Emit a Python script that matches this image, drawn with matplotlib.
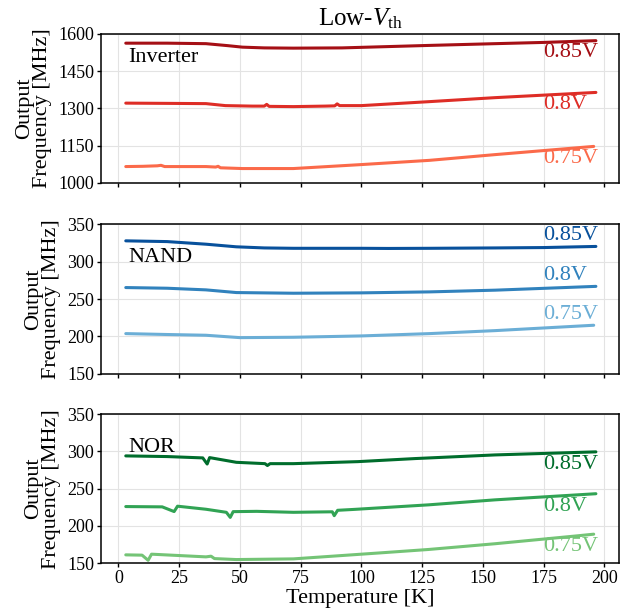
import matplotlib
matplotlib.use("Agg")
import matplotlib.pyplot as plt

plt.rcParams["font.family"] = ["Liberation Serif", "DejaVu Serif"]
plt.rcParams["mathtext.fontset"] = "custom"
plt.rcParams["mathtext.rm"] = "Liberation Serif"
plt.rcParams["mathtext.it"] = "Liberation Serif:italic"

# Inverter ring oscillator, output frequency [MHz] vs temperature [K]
inv_085_T = [3, 20, 36, 45, 51, 60, 72, 92, 110, 128, 155, 175, 196.5]
inv_085_f = [1562, 1562, 1560, 1552, 1546, 1543, 1542, 1543, 1548, 1553, 1560, 1565, 1572]
inv_080_T = [3, 20, 36, 44, 55, 60, 61, 62, 72, 85, 89, 90, 91, 100, 128, 155, 196.5]
inv_080_f = [1321, 1320, 1319, 1311, 1309, 1309, 1316, 1308, 1307, 1309, 1310, 1318, 1311,
             1311, 1327, 1343, 1364]
inv_075_T = [3, 10, 16, 17.5, 19, 36, 40, 41, 42, 51, 72, 100, 128, 155, 195.6]
inv_075_f = [1066, 1067, 1069, 1071, 1066, 1066, 1064, 1067, 1061, 1058, 1058, 1074, 1091,
             1114, 1147]

# NAND
nand_085_T = [3, 20, 36, 48.5, 60, 72, 87, 100, 111, 128, 155, 175, 196.5]
nand_085_f = [328, 327, 323.5, 320, 318.5, 318, 318, 318, 317.8, 318, 318.5, 319, 320.5]
nand_080_T = [3, 20, 36, 48.5, 72, 100, 128, 155, 196.5]
nand_080_f = [265.4, 264.5, 262.3, 258.7, 257.8, 258.3, 259.6, 261.9, 267]
nand_075_T = [3, 20, 36, 50, 72, 100, 128, 155, 195.6]
nand_075_f = [203.7, 202.5, 201.5, 198.3, 198.8, 200.6, 203.7, 207.7, 214.9]

# NOR
nor_085_T = [3, 20, 34.7, 36.5, 37.5, 48.5, 60.3, 61.3, 62.4, 72, 98.5, 122, 155, 196.5]
nor_085_f = [293.9, 293, 291.2, 283, 291.6, 285.3, 283.5, 281, 283.5, 283.5, 286.2, 290.3,
             295.2, 299.3]
nor_080_T = [3, 18, 22.9, 24.3, 36, 44.4, 46, 47.2, 56.9, 72, 88, 88.8, 90.2, 97, 127.6,
             155, 196.5]
nor_080_f = [226, 225.6, 219.3, 226.5, 222.4, 218.3, 211.5, 219.2, 219.6, 218.3, 219, 213.8,
             221, 222.2, 228.3, 235, 243.2]
nor_075_T = [3, 9.7, 12.2, 13.6, 36, 38.1, 39.5, 48.5, 72, 108, 127.6, 155, 188.6, 195.6]
nor_075_f = [161.3, 160.9, 154, 162.2, 158.6, 159.5, 156.3, 155, 155.9, 164, 168.5, 176.2,
             186.7, 189]

voltages = ["0.85V", "0.8V", "0.75V"]
x_ticks = [0, 25, 50, 75, 100, 125, 150, 175, 200]
inv_ticks = [1000, 1150, 1300, 1450, 1600]
gate_ticks = [150, 200, 250, 300, 350]
label_T = 174.7  # voltage labels start here

panels = [
    dict(name="Inverter", series=[(inv_085_T, inv_085_f), (inv_080_T, inv_080_f), (inv_075_T, inv_075_f)],
         colors=["#a50f15", "#de2d26", "#fb6a4a"], yticks=inv_ticks, label_va="top", name_y=1487),
    dict(name="NAND", series=[(nand_085_T, nand_085_f), (nand_080_T, nand_080_f), (nand_075_T, nand_075_f)],
         colors=["#08519c", "#3182bd", "#6baed6"], yticks=gate_ticks, label_va="bottom", name_y=299),
    dict(name="NOR", series=[(nor_085_T, nor_085_f), (nor_080_T, nor_080_f), (nor_075_T, nor_075_f)],
         colors=["#006d2c", "#31a354", "#74c476"], yticks=gate_ticks, label_va="top", name_y=299),
]

fig = plt.figure(figsize=(6.34, 6.13), dpi=100)
bottoms = [0.7015, 0.3904, 0.0811]
left, width, height = 0.1593, 0.817, 0.2435

for i, p in enumerate(panels):
    ax = fig.add_axes([left, bottoms[i], width, height])
    for (T, f), c, v in zip(p["series"], p["colors"], voltages):
        ax.plot(T, f, color=c, lw=2.2, solid_capstyle="round", zorder=3)
        off = -2 if p["label_va"] == "top" else 1
        ax.annotate(v, xy=(label_T, f[-1]), xytext=(0, off), textcoords="offset points",
                    ha="left", va=p["label_va"], color=c, fontsize=16, zorder=4)
    ax.text(4, p["name_y"], p["name"], fontsize=16, ha="left", va="baseline", zorder=4)
    ax.set_xlim(-7.2, 206)
    ax.set_ylim(p["yticks"][0], p["yticks"][-1])
    ax.set_yticks(p["yticks"])
    ax.set_xticks(x_ticks)
    ax.grid(True, color="#e3e3e3", lw=0.8, zorder=0)
    ax.set_axisbelow(True)
    ax.tick_params(direction="out", length=3, width=1, pad=2, labelsize=13, colors="black")
    for s in ax.spines.values():
        s.set_linewidth(1.1)
        s.set_color("black")
    ax.set_ylabel("Output\nFrequency [MHz]", fontsize=16, labelpad=4, linespacing=0.95)
    if i < 2:
        ax.tick_params(labelbottom=False)
    else:
        ax.set_xlabel("Temperature [K]", fontsize=16, labelpad=1)
    if i == 0:
        ax.set_title(r"Low-$V_{\mathrm{th}}$", fontsize=18, pad=6)

fig.savefig("out.png", dpi=100)
